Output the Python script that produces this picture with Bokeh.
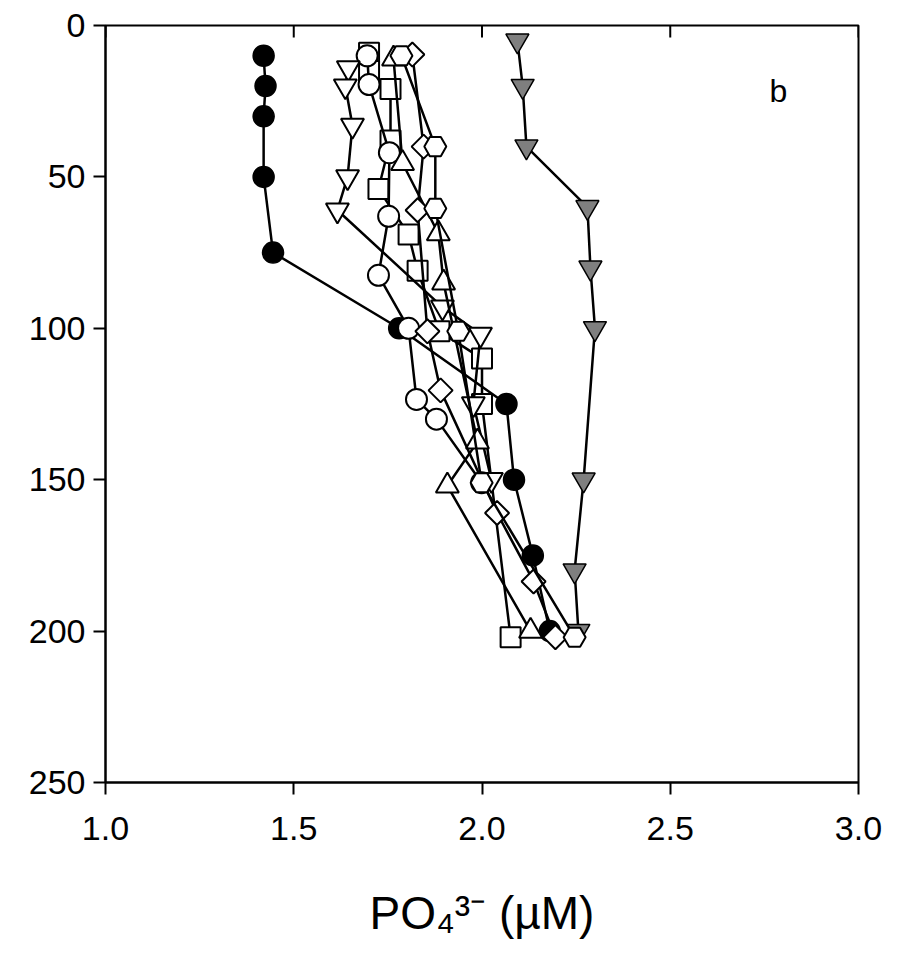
from bokeh.plotting import figure
from bokeh.models import Range1d, FixedTicker, Label, NumeralTickFormatter
from bokeh.embed import file_html
from bokeh.resources import INLINE

# ---- data (PO4 in uM, depth in m) ----
fc_x = [1.42, 1.425, 1.42, 1.42, 1.445, 1.78, 2.065, 2.085, 2.135, 2.18]
fc_d = [10, 20, 30, 50, 75, 100, 125, 150, 175, 200]

gt_x = [2.094, 2.108, 2.118, 2.28, 2.288, 2.30, 2.27, 2.246, 2.256]
gt_d = [5, 20, 40, 60, 80, 100, 150, 180, 200]

sq_x = [1.70, 1.70, 1.757, 1.757, 1.725, 1.805, 1.829, 1.887, 2.0, 2.0, 2.076]
sq_d = [9, 15, 21, 38, 54, 69, 81, 101, 110, 125, 202]

oc_x = [1.695, 1.70, 1.754, 1.752, 1.725, 1.805, 1.826, 1.879, 1.999]
oc_d = [10, 19.5, 42, 63, 82.5, 100, 123.5, 130, 151]

td_x = [1.645, 1.637, 1.656, 1.643, 1.616, 1.895, 1.996, 1.977, 2.025]
td_d = [14, 20, 33, 50, 61, 93, 102, 125, 150]

tu_x = [1.765, 1.789, 1.884, 1.898, 1.988, 1.908, 2.129]
tu_d = [11, 45.5, 68.7, 85, 137.5, 152, 200]

dm_x = [1.815, 1.845, 1.829, 1.855, 1.89, 2.04, 2.137, 2.195]
dm_d = [9.6, 40, 61, 101, 120.5, 161, 183.6, 202]

hx_x = [1.786, 1.876, 1.876, 1.937, 1.999, 2.246]
hx_d = [10, 40, 60.4, 101, 151, 202]

x_ticks = [1.0, 1.5, 2.0, 2.5, 3.0]
y_ticks = [0, 50, 100, 150, 200, 250]
x_title = "PO\u2084\u00b3\u207b (\u00b5M)"
panel_tag = "b"

FONT = "Liberation Sans"
FRAME_H = 757
Y_MAX = 250
TICK_PX = 12

p = figure(frame_width=753, frame_height=FRAME_H,
           x_range=Range1d(1, 3), y_range=Range1d(Y_MAX, 0),
           output_backend="svg", toolbar_location=None,
           min_border_left=105, min_border_right=45,
           min_border_top=25, min_border_bottom=170)
p.xgrid.visible = False
p.ygrid.visible = False
p.outline_line_color = "black"
p.outline_line_width = 2
p.outline_line_alpha = 1
p.background_fill_color = "white"
p.border_fill_color = "white"

for ax in (p.xaxis[0], p.yaxis[0]):
    ax.axis_line_width = 2
    ax.axis_line_color = "black"
    ax.major_tick_line_width = 2
    ax.major_tick_line_color = "black"
    ax.major_tick_out = TICK_PX
    ax.major_tick_in = 0
    ax.minor_tick_line_color = None
    ax.major_label_text_font = FONT
    ax.major_label_text_font_size = "34px"
    ax.major_label_text_color = "black"

p.xaxis.ticker = FixedTicker(ticks=x_ticks)
p.xaxis.formatter = NumeralTickFormatter(format="0.0")
p.xaxis.major_label_standoff = 22
p.xaxis.axis_label = x_title
p.xaxis.axis_label_text_font = FONT
p.xaxis.axis_label_text_font_style = "normal"
p.xaxis.axis_label_text_font_size = "46px"
p.xaxis.axis_label_text_color = "black"
p.xaxis.axis_label_standoff = 44
p.yaxis.ticker = FixedTicker(ticks=y_ticks)
p.yaxis.major_label_standoff = 8

# inward ticks on the top edge of the frame
tick_len = TICK_PX * Y_MAX / FRAME_H
p.segment(x0=x_ticks, y0=[0] * len(x_ticks), x1=x_ticks, y1=[tick_len] * len(x_ticks),
          line_color="black", line_width=2)

LW = 2.5

# filled circles
p.line(fc_x, fc_d, line_color="black", line_width=LW)
p.scatter(fc_x, fc_d, marker="circle", size=21, fill_color="black", line_color="black", line_width=1.5)
# grey inverted triangles
p.line(gt_x, gt_d, line_color="black", line_width=LW)
p.scatter(gt_x, gt_d, marker="inverted_triangle", size=23, fill_color="#7f7f7f", line_color="black", line_width=1.5)

open_series = [
    (sq_x, sq_d, "square", 20, 0.0),
    (oc_x, oc_d, "circle", 21, 0.0),
    (td_x, td_d, "inverted_triangle", 23, 0.0),
    (tu_x, tu_d, "triangle", 23, 0.0),
    (dm_x, dm_d, "square", 17, 0.785398),
    (hx_x, hx_d, "hex", 22, 0.0),
]
for xs, ds, mk, sz, ang in open_series:
    p.line(xs, ds, line_color="black", line_width=LW)
    p.scatter(xs, ds, marker=mk, size=sz, angle=ang, fill_color="white", line_color="black", line_width=2)

p.add_layout(Label(x=2.787, y=21.5, text=panel_tag, text_font=FONT, text_font_size="32px",
                   text_align="center", text_baseline="middle", text_color="black"))

open("out.html", "w").write(file_html(p, INLINE))
